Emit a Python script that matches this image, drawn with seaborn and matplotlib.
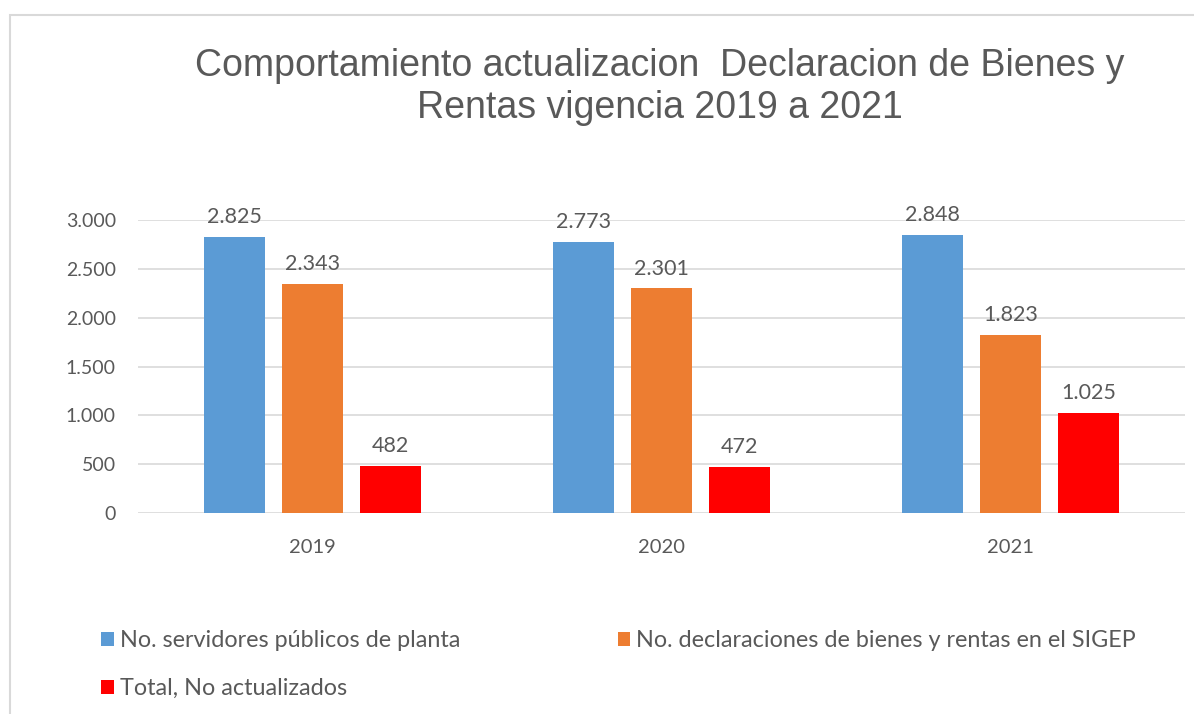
import matplotlib.pyplot as plt
import matplotlib.patches as mpatches
import seaborn as sns
import pandas as pd

years = ['2019', '2020', '2021']
servidores = [2825, 2773, 2848]
declaraciones = [2343, 2301, 1823]
no_actualizados = [482, 472, 1025]
series = ['No. servidores públicos de planta',
          'No. declaraciones de bienes y rentas en el SIGEP',
          'Total, No actualizados']
colors = ['#5B9BD5', '#ED7D31', '#FF0000']

df = pd.DataFrame({
    'year': years * 3,
    'value': servidores + declaraciones + no_actualizados,
    'serie': [series[0]] * 3 + [series[1]] * 3 + [series[2]] * 3,
})

sns.set_style('white')
plt.rcParams['font.family'] = ['Lato', 'DejaVu Sans']
txt = '#595959'

fig = plt.figure(figsize=(11.94, 7.14), dpi=100)
ax = fig.add_axes([138 / 1194, 1 - 513 / 714, (1185 - 138) / 1194, (513 - 220) / 714])

sns.barplot(data=df, x='year', y='value', hue='serie', palette=colors,
            width=0.67, gap=0.22, linewidth=0, saturation=1, ax=ax)

def fmt(v):
    return f'{v:,.0f}'.replace(',', '.')

for c in ax.containers:
    ax.bar_label(c, labels=[fmt(b.get_height()) for b in c], padding=7,
                 fontsize=15.5, color=txt)

ax.set_ylim(0, 3000)
ax.set_yticks(range(0, 3001, 500))
ax.set_yticklabels([fmt(v) for v in range(0, 3001, 500)])
ax.set_xlabel('')
ax.set_ylabel('')
ax.yaxis.grid(True, color='#d9d9d9', linewidth=1.2)
ax.set_axisbelow(True)
for s in ax.spines.values():
    s.set_visible(False)
ax.tick_params(axis='y', length=0, pad=16, labelsize=14, labelcolor=txt)
ax.tick_params(axis='x', length=0, pad=19, labelsize=14.5, labelcolor=txt)

handles, labels = ax.get_legend_handles_labels()
ax.get_legend().remove()
order = [0, 2, 1]
fig.legend([handles[i] for i in order], [labels[i] for i in order],
           loc='upper left', bbox_to_anchor=(101 / 1194, 1 - 630 / 714),
           ncol=2, frameon=False, borderpad=0, borderaxespad=0,
           fontsize=16.8, labelcolor=txt, handlelength=0.55, handleheight=0.55,
           handletextpad=0.25, labelspacing=1.15, columnspacing=6.75)

fig.text(660 / 1194, 1 - 87 / 714,
         'Comportamiento actualizacion  Declaracion de Bienes y\nRentas vigencia 2019 a 2021',
         ha='center', va='center', fontsize=27, color=txt,
         family=['Liberation Sans', 'DejaVu Sans'], linespacing=1.22)

# chart frame
fig.patches.append(mpatches.Rectangle((10 / 1194, -0.1), 1.2, 1 - 15 / 714 + 0.1,
                                      transform=fig.transFigure, fill=False,
                                      edgecolor='#d9d9d9', linewidth=1.5))

fig.savefig('out.png', dpi=100)
